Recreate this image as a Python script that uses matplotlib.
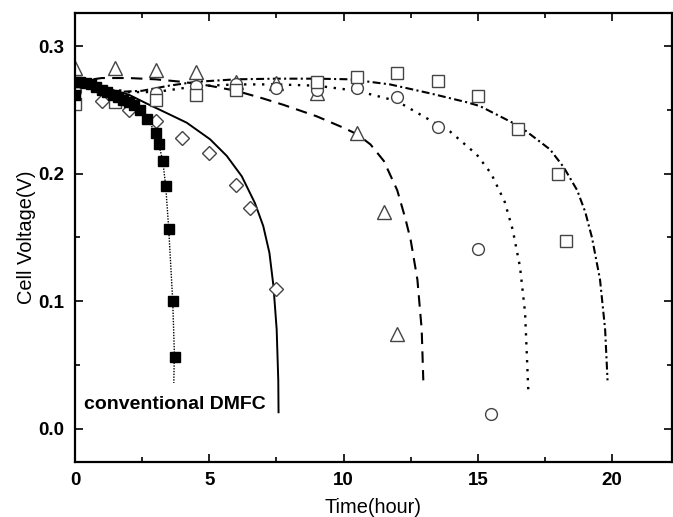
import matplotlib
matplotlib.use("Agg")
import matplotlib.pyplot as plt
from matplotlib.ticker import MultipleLocator

plt.rcParams['font.family'] = ['Liberation Sans', 'DejaVu Sans']

# conventional DMFC (filled squares) and its dotted guide line
conv_t = [0.0, 0.05, 0.2, 0.4, 0.6, 0.8, 1.0, 1.2, 1.4, 1.6, 1.8, 2.0, 2.2,
          2.42, 2.69, 3.0, 3.12, 3.27, 3.38, 3.49, 3.64, 3.72]
conv_v = [0.262, 0.272, 0.272, 0.271, 0.270, 0.268, 0.266, 0.264, 0.262, 0.260,
          0.258, 0.256, 0.254, 0.250, 0.243, 0.232, 0.223, 0.210, 0.190, 0.157,
          0.100, 0.056]
conv_line_t = [0.0, 0.5, 1.0, 1.5, 2.0, 2.42, 2.69, 3.0, 3.12, 3.27, 3.38, 3.49,
               3.64, 3.70, 3.68]
conv_line_v = [0.272, 0.271, 0.266, 0.261, 0.256, 0.250, 0.243, 0.232, 0.223,
               0.210, 0.190, 0.157, 0.100, 0.060, 0.036]

# diamonds + solid fit
dia_t = [1.0, 2.0, 3.0, 4.0, 5.0, 6.0, 6.5, 7.5]
dia_v = [0.257, 0.250, 0.241, 0.228, 0.216, 0.191, 0.173, 0.110]
solid_t = [0.0, 1.0, 2.0, 2.67, 3.17, 4.16, 5.03, 5.65, 6.21, 6.70, 7.01, 7.24,
           7.39, 7.51, 7.57, 7.58]
solid_v = [0.273, 0.268, 0.262, 0.255, 0.250, 0.240, 0.227, 0.214, 0.198, 0.177,
           0.159, 0.138, 0.112, 0.078, 0.038, 0.013]

# triangles + dashed fit
tri_t = [0.0, 1.5, 3.0, 4.5, 6.0, 7.5, 9.0, 10.5, 11.5, 12.0]
tri_v = [0.283, 0.283, 0.281, 0.280, 0.272, 0.271, 0.263, 0.232, 0.170, 0.074]
dash_t = [0.0, 1.0, 2.0, 3.0, 4.0, 5.0, 6.0, 7.0, 7.76, 9.0, 10.0, 10.5, 11.0,
          11.5, 12.0, 12.3, 12.5, 12.75, 12.91, 12.97]
dash_v = [0.272, 0.275, 0.275, 0.274, 0.272, 0.269, 0.265, 0.259, 0.254, 0.245,
          0.236, 0.231, 0.223, 0.210, 0.187, 0.165, 0.148, 0.117, 0.078, 0.038]

# circles + dotted fit
cir_t = [0.0, 3.0, 4.5, 6.0, 7.5, 9.0, 10.5, 12.0, 13.5, 15.0, 15.5]
cir_v = [0.265, 0.263, 0.269, 0.270, 0.267, 0.266, 0.267, 0.260, 0.237, 0.141, 0.012]
dot_t = [0.0, 1.0, 2.0, 3.0, 4.0, 5.0, 6.0, 7.5, 9.0, 10.49, 11.98, 13.22, 13.97,
         14.96, 15.5, 16.0, 16.3, 16.57, 16.76, 16.88]
dot_v = [0.272, 0.268, 0.264, 0.264, 0.267, 0.269, 0.270, 0.270, 0.269, 0.265,
         0.257, 0.242, 0.233, 0.215, 0.200, 0.178, 0.156, 0.127, 0.091, 0.030]

# open squares + dash-dot fit
sq_t = [0.0, 1.5, 3.0, 4.5, 6.0, 9.0, 10.5, 12.0, 13.5, 15.0, 16.5, 18.0, 18.3]
sq_v = [0.255, 0.256, 0.258, 0.262, 0.266, 0.272, 0.276, 0.279, 0.273, 0.261,
        0.235, 0.200, 0.147]
dd_t = [0.0, 0.7, 1.5, 2.5, 3.5, 4.5, 6.0, 7.5, 9.0, 10.24, 11.73, 13.22, 14.59,
        15.08, 16.57, 17.69, 18.2, 18.7, 19.0, 19.25, 19.55, 19.74, 19.83]
dd_v = [0.272, 0.268, 0.264, 0.265, 0.269, 0.272, 0.274, 0.2745, 0.2745, 0.274,
        0.270, 0.263, 0.256, 0.253, 0.237, 0.219, 0.205, 0.187, 0.170, 0.150,
        0.117, 0.078, 0.038]

fig = plt.figure(figsize=(6.73, 5.17), dpi=100)
ax = fig.add_axes([0.1114, 0.1064, 0.8871, 0.8685])

ax.plot(solid_t, solid_v, '-', color='black', lw=1.4)
ax.plot(dash_t, dash_v, color='black', lw=1.5, dashes=(5.5, 3.5))
ax.plot(dot_t, dot_v, color='black', lw=1.7, dashes=(1, 2.8))
ax.plot(dd_t, dd_v, color='black', lw=1.5, dashes=(3.8, 1.6, 1, 1.6))
ax.plot(conv_line_t, conv_line_v, color='black', lw=1.0, dashes=(1, 1))

mk = dict(linestyle='none', markerfacecolor='white', markeredgecolor='#444444',
          markeredgewidth=1.0)
ax.plot(dia_t, dia_v, marker='D', markersize=7, **mk)
ax.plot(tri_t, tri_v, marker='^', markersize=9.5, **mk)
ax.plot(cir_t, cir_v, marker='o', markersize=8.5, **mk)
ax.plot(sq_t, sq_v, marker='s', markersize=8, **mk)
ax.plot(conv_t, conv_v, linestyle='none', marker='s', markersize=6.5,
        color='black')

ax.text(0.35, 0.019, 'conventional DMFC', fontsize=14, fontweight='bold',
        ha='left', va='center')

ax.set_xlim(0, 22.23)
ax.set_ylim(-0.026, 0.326)
ax.xaxis.set_minor_locator(MultipleLocator(2.5))
ax.yaxis.set_minor_locator(MultipleLocator(0.05))
ax.set_xticks([0, 5, 10, 15, 20])
ax.set_yticks([0.0, 0.1, 0.2, 0.3])
ax.set_yticklabels(['0.0', '0.1', '0.2', '0.3'])

ax.tick_params(which='both', direction='in', top=True, right=True, width=1.2)
ax.tick_params(which='major', length=6, labelsize=13.5)
ax.tick_params(axis='x', which='major', pad=7)
ax.tick_params(axis='y', which='major', pad=8)
ax.tick_params(which='minor', length=3.5)
for lab in ax.get_xticklabels() + ax.get_yticklabels():
    lab.set_fontweight('bold')
for sp in ax.spines.values():
    sp.set_linewidth(1.6)

ax.set_xlabel('Time(hour)', fontsize=14.4, labelpad=7)
ax.set_ylabel('Cell Voltage(V)', fontsize=14.4, labelpad=1)

fig.savefig('out.png', dpi=100)
